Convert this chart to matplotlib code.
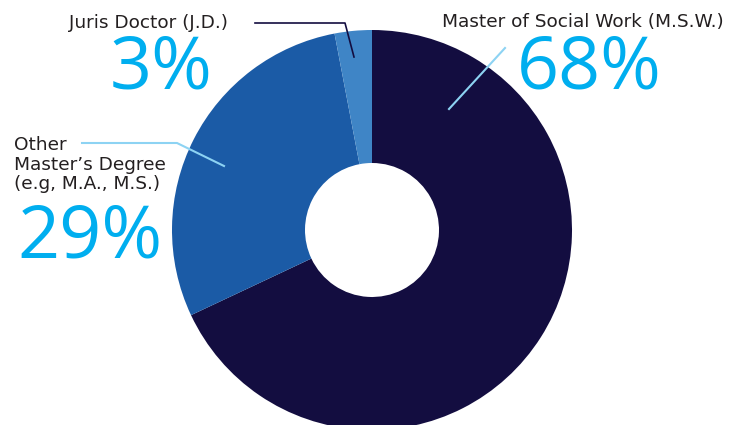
import matplotlib.pyplot as plt

# Degree breakdown (percent)
degrees = ['Master of Social Work (M.S.W.)', "Other\nMaster\u2019s Degree\n(e.g, M.A., M.S.)", 'Juris Doctor (J.D.)']
shares = [68, 29, 3]
share_labels = ['68%', '29%', '3%']
colors = ['#130d40', '#1b5ba6', '#3f85c6']

W, H = 729, 425
fig = plt.figure(figsize=(W / 100, H / 100), dpi=100)
ax = fig.add_axes([0, 0, 1, 1])

# y axis runs downward (pixel style), so "counterclock" in data = clockwise on screen
ax.pie(shares, colors=colors, startangle=270, counterclock=True,
       center=(372, 230), radius=200, frame=True,
       wedgeprops=dict(width=133, linewidth=0))
ax.set_xlim(0, W)
ax.set_ylim(H, 0)
ax.set_aspect('equal')
ax.axis('off')

label_font = dict(family='DejaVu Sans', fontsize=13.3, color='#231f20')
pct_font = dict(family='Open Sans', fontsize=53, color='#00aeef')

# Juris Doctor
ax.text(69, 28, degrees[2], ha='left', va='baseline', **label_font)
ax.text(161, 88, share_labels[2], ha='center', va='baseline', **pct_font)
ax.plot([255, 345, 354], [23, 23, 57], color='#130d40', lw=1.2)

# M.S.W.
ax.text(724, 27, degrees[0], ha='right', va='baseline', **label_font)
ax.text(589, 88, share_labels[0], ha='center', va='baseline', **pct_font)
ax.plot([505, 449], [48, 109], color='#8dd3f3', lw=1.5)

# Other master's
for i, line in enumerate(degrees[1].split('\n')):
    ax.text(14, 150 + 19.5 * i, line, ha='left', va='baseline', **label_font)
ax.text(90, 257, share_labels[1], ha='center', va='baseline', **pct_font)
ax.plot([82, 177, 224], [143, 143, 166], color='#8dd3f3', lw=1.5)

fig.savefig('out.png', dpi=100)
